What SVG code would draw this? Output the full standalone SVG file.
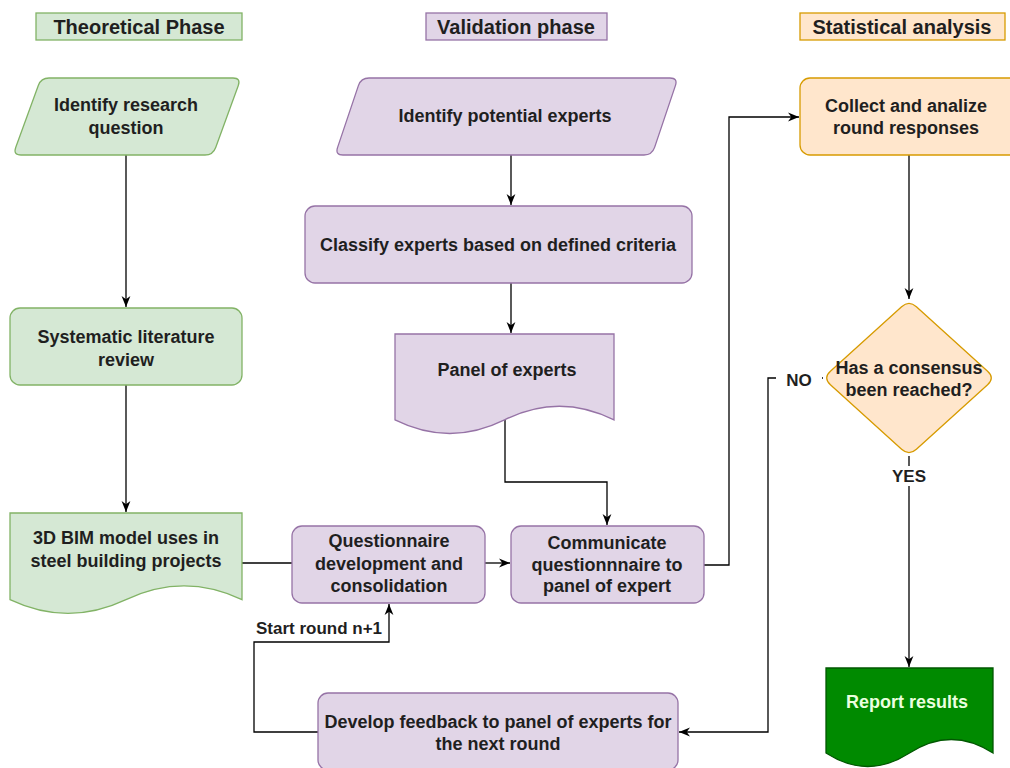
<svg xmlns="http://www.w3.org/2000/svg" width="1010" height="768" viewBox="0 0 1010 768">
<style>
text{font-family:"Liberation Sans",Arial,sans-serif;font-weight:bold;fill:#1f1f1f;text-anchor:middle}
.t{font-size:20px}
.n{font-size:18px}
.l{font-size:17px}
.g{fill:#d5e8d4;stroke:#82b366;stroke-width:1.3}
.p{fill:#e1d5e7;stroke:#9673a6;stroke-width:1.3}
.o{fill:#ffe6cc;stroke:#d79b00;stroke-width:1.3}
.c{fill:none;stroke:#000;stroke-width:1.3}
</style>
<defs>
<marker id="arr" viewBox="0 0 10 10" refX="10" refY="5" markerWidth="11" markerHeight="11" orient="auto" markerUnits="userSpaceOnUse"><path d="M0,1 L10,5 L0,9 L3,5 Z" fill="#000"/></marker>
</defs>
<rect width="1010" height="768" fill="#fff"/>
<g id="title-theoretical"><rect class="g" x="36" y="13" width="206" height="27"/><text class="t" x="139" y="34">Theoretical Phase</text></g>
<g id="title-validation"><rect class="p" x="426" y="13" width="181" height="27"/><text class="t" x="516" y="34">Validation phase</text></g>
<g id="title-statistical"><rect class="o" x="800" y="13" width="205" height="27"/><text class="t" x="902" y="34">Statistical analysis</text></g>

<g id="connectors">
<path class="c" d="M126,155 V307" marker-end="url(#arr)"/>
<path class="c" d="M126,385 V512" marker-end="url(#arr)"/>
<path class="c" d="M242,563 H292"/>
<path class="c" d="M485,563 H510" marker-end="url(#arr)"/>
<path class="c" d="M511,155 V205" marker-end="url(#arr)"/>
<path class="c" d="M511,283 V333" marker-end="url(#arr)"/>
<path class="c" d="M505,420 V482 H607 V525" marker-end="url(#arr)"/>
<path class="c" d="M704,565 H729 V117 H799" marker-end="url(#arr)"/>
<path class="c" d="M909,155 V299" marker-end="url(#arr)"/>
<path class="c" d="M909,456 V667" marker-end="url(#arr)"/>
<path class="c" d="M823,378 H768 V732 H679" marker-end="url(#arr)"/>
<path class="c" d="M318,732 H254 V642 H389 V604" marker-end="url(#arr)"/>
<rect x="776" y="368" width="46" height="24" fill="#fff"/>
<text class="l" x="799" y="386">NO</text>
<rect x="888" y="466" width="42" height="20" fill="#fff"/>
<text class="l" x="909" y="482">YES</text>
<text class="l" x="319" y="634">Start round n+1</text>
</g>

<g id="identify-question"><path class="g" d="M49,78 L233,78 Q241,78 238.3,85.5 L215.7,147.5 Q213,155 205,155 L21,155 Q13,155 15.7,147.5 L38.3,85.5 Q41,78 49,78 Z"/><text class="n" x="126" y="111">Identify research</text><text class="n" x="126" y="134">question</text></g>
<g id="literature-review"><rect class="g" x="10" y="308" width="232" height="77" rx="10"/><text class="n" x="126" y="343">Systematic literature</text><text class="n" x="126" y="366">review</text></g>
<g id="bim-uses"><path class="g" d="M10,513 H242 V599.7 Q184,572.2 126,599.7 Q68,627.2 10,599.7 Z"/><text class="n" x="126" y="544">3D BIM model uses in</text><text class="n" x="126" y="567">steel building projects</text></g>

<g id="identify-experts"><path class="p" d="M369,78 L670,78 Q678,78 675.4,85.6 L654.6,147.4 Q652,155 644,155 L343,155 Q335,155 337.6,147.4 L358.4,85.6 Q361,78 369,78 Z"/><text class="n" x="505" y="122">Identify potential experts</text></g>
<g id="classify"><rect class="p" x="305" y="206" width="387" height="77" rx="10"/><text class="n" x="498" y="251">Classify experts based on defined criteria</text></g>
<g id="panel"><path class="p" d="M395,334 H614 V419.9 Q559.3,392.6 504.5,419.9 Q449.8,447.1 395,419.9 Z"/><text class="n" x="507" y="376">Panel of experts</text></g>
<g id="questionnaire"><rect class="p" x="292" y="526" width="193" height="77" rx="10"/><text class="n" x="389" y="547">Questionnaire</text><text class="n" x="389" y="570">development and</text><text class="n" x="389" y="592">consolidation</text></g>
<g id="communicate"><rect class="p" x="511" y="526" width="193" height="77" rx="10"/><text class="n" x="607" y="549">Communicate</text><text class="n" x="607" y="571">questionnnaire to</text><text class="n" x="607" y="592">panel of expert</text></g>
<g id="feedback"><rect class="p" x="318" y="693" width="360" height="77" rx="10"/><text class="n" x="498" y="728">Develop feedback to panel of experts for</text><text class="n" x="498" y="750">the next round</text></g>

<g id="collect"><rect class="o" x="800" y="78" width="220" height="77" rx="10"/><text class="n" x="906" y="112">Collect and analize</text><text class="n" x="906" y="134">round responses</text></g>
<g id="consensus"><path class="o" d="M901.6,306.7 Q909,300 916.4,306.7 L987.6,371.3 Q995,378 987.6,384.7 L916.4,449.3 Q909,456 901.6,449.3 L830.4,384.7 Q823,378 830.4,371.3 Z"/><text class="n" x="909" y="374">Has a consensus</text><text class="n" x="909" y="396">been reached?</text></g>
<g id="report"><path d="M826,668 H993 V753 Q951.3,726 909.5,753 Q867.8,780 826,753 Z" fill="#008a00" stroke="#005700" stroke-width="1.3"/><text class="n" x="907" y="708" style="fill:#eaffdf">Report results</text></g>
</svg>
